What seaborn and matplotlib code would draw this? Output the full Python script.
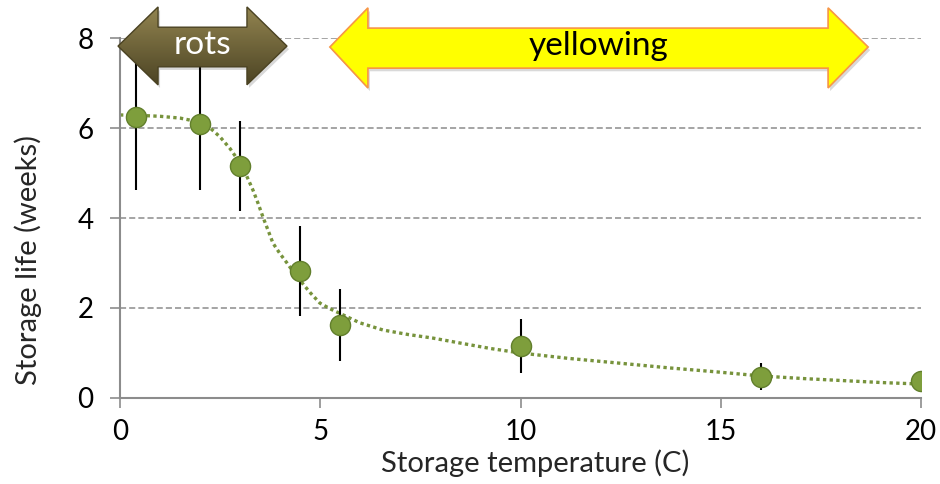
import numpy as np
import pandas as pd
import matplotlib
matplotlib.use("Agg")
import matplotlib.pyplot as plt
import seaborn as sns
from matplotlib.patches import Polygon

# ---- data ----
temperature = [0.4, 2.0, 3.0, 4.5, 5.5, 10.0, 16.0, 20.0]
storage_life = [6.24, 6.09, 5.16, 2.82, 1.62, 1.16, 0.47, 0.38]
error = [1.62, 1.47, 1.0, 1.0, 0.8, 0.6, 0.3, 0.05]

curve_x = [0.0, 0.5, 1.0, 1.5, 2.0, 2.25, 2.5, 2.75, 3.0, 3.16, 3.32, 3.45, 3.57, 3.7, 3.82,
           4.0, 4.17, 4.33, 4.49, 4.75, 4.99, 5.25, 5.49, 5.99, 6.57, 7.2, 7.82,
           8.5, 9.25, 10.0, 11.2, 12.4, 13.7, 14.9, 16.0, 17.1, 18.2, 19.1, 20.0]
curve_y = [6.29, 6.28, 6.26, 6.22, 6.13, 6.0, 5.8, 5.54, 5.22, 4.94, 4.62, 4.32, 4.02, 3.72, 3.44,
           3.2, 3.0, 2.8, 2.62, 2.34, 2.11, 1.98, 1.88, 1.67, 1.51, 1.41, 1.33,
           1.22, 1.1, 1.0, 0.88, 0.78, 0.67, 0.58, 0.49, 0.43, 0.38, 0.34, 0.31]

x_ticks = [0, 5, 10, 15, 20]
y_ticks = [0, 2, 4, 6, 8]
x_label = "Storage temperature (C)"
y_label = "Storage life (weeks)"
rots_label = "rots"
yellow_label = "yellowing"

points = pd.DataFrame({"temperature": temperature, "life": storage_life})
curve = pd.DataFrame({"temperature": curve_x, "life": curve_y})

sns.set_theme(style="white")
plt.rcParams["font.family"] = ["Lato", "DejaVu Sans"]

fig = plt.figure(figsize=(9.4, 4.84), dpi=100)
pos = [120 / 940, 1 - 398 / 484, (921 - 120) / 940, (398 - 38) / 484]
ax = fig.add_axes(pos)

green = "#77933C"
sns.lineplot(data=curve, x="temperature", y="life", ax=ax, color=green,
             linewidth=2.4, linestyle=(0, (1, 1)), zorder=2)
ax.errorbar(temperature, storage_life, yerr=error, fmt="none", ecolor="black",
            elinewidth=1.5, capsize=0, zorder=3)
sns.scatterplot(data=points, x="temperature", y="life", ax=ax, s=210,
                color="#7E9E3C", edgecolor="#627F2C", linewidth=1.0, zorder=4)

xlim = (0, 20)
ylim = (0, 8)
ax.set_xlim(*xlim)
ax.set_ylim(*ylim)
ax.set_xticks(x_ticks)
ax.set_yticks(y_ticks)
ax.set_xticklabels([str(t) for t in x_ticks])
ax.set_yticklabels([str(t) for t in y_ticks])
ax.tick_params(axis="both", labelsize=20, colors="#8c8c8c", labelcolor="black",
               length=7, width=1.2, direction="out", bottom=True, left=True)
ax.tick_params(axis="y", pad=12)
ax.tick_params(axis="x", pad=8)
ax.set_xlabel(x_label, fontsize=21)
ax.set_ylabel(y_label, fontsize=21)
ax.xaxis.set_label_coords(0.518, -0.142)
ax.yaxis.set_label_coords(-0.097, 0.383)

for yv in y_ticks[1:]:
    ax.axhline(yv, color="#8c8c8c", linestyle=(0, (4, 2)), linewidth=1.1, zorder=1)

for side in ["top", "right"]:
    ax.spines[side].set_visible(False)
for side in ["left", "bottom"]:
    ax.spines[side].set_color("#8c8c8c")
    ax.spines[side].set_linewidth(1.5)

# overlay axes covering the whole figure, with the same data mapping
ov = fig.add_axes([0, 0, 1, 1], zorder=10)
ov.patch.set_alpha(0)
ov.axis("off")
sx = (xlim[1] - xlim[0]) / pos[2]
sy = (ylim[1] - ylim[0]) / pos[3]
ov.set_xlim(xlim[0] - pos[0] * sx, xlim[0] + (1 - pos[0]) * sx)
ov.set_ylim(ylim[0] - pos[1] * sy, ylim[0] + (1 - pos[1]) * sy)


def double_arrow(x0, x1, hx0, hx1, ytop, ybot, stop, sbot, ymid):
    return [(x0, ymid), (hx0, ytop), (hx0, stop), (hx1, stop), (hx1, ytop),
            (x1, ymid), (hx1, ybot), (hx1, sbot), (hx0, sbot), (hx0, ybot)]


# rots arrow (gradient olive)
rots_pts = double_arrow(-0.05, 4.17, 0.95, 3.17, 8.69, 6.96, 8.24, 7.36, 7.82)
ov.add_patch(Polygon([(x + 0.05, y - 0.07) for x, y in rots_pts], closed=True,
                     facecolor="#000000", alpha=0.15, edgecolor="none", zorder=1))
grad = np.linspace(0, 1, 100).reshape(-1, 1)
cmap = matplotlib.colors.LinearSegmentedColormap.from_list("olive", ["#928450", "#4C4424"])
im = ov.imshow(grad, extent=(-0.05, 4.17, 6.96, 8.69), origin="upper", cmap=cmap,
               aspect="auto", zorder=2)
clip_poly = Polygon(rots_pts, closed=True, transform=ov.transData)
im.set_clip_path(clip_poly)
ov.add_patch(Polygon(rots_pts, closed=True, facecolor="none", edgecolor="#4a4222",
                     linewidth=1.0, zorder=3))
ov.text(2.06, 7.84, rots_label, color="white", fontsize=24, ha="center",
        va="center", zorder=4)

# yellowing arrow
yel_pts = double_arrow(5.24, 18.68, 6.19, 17.68, 8.67, 6.89, 8.22, 7.33, 7.8)
ov.add_patch(Polygon([(x + 0.05, y - 0.07) for x, y in yel_pts], closed=True,
                     facecolor="#000000", alpha=0.15, edgecolor="none", zorder=1))
ov.add_patch(Polygon(yel_pts, closed=True, facecolor="#FFFF00", edgecolor="#F79646",
                     linewidth=1.2, zorder=2))
ov.text(11.96, 7.82, yellow_label, color="black", fontsize=24, ha="center",
        va="center", zorder=4)

ov.set_xlim(xlim[0] - pos[0] * sx, xlim[0] + (1 - pos[0]) * sx)
ov.set_ylim(ylim[0] - pos[1] * sy, ylim[0] + (1 - pos[1]) * sy)

fig.savefig("out.png", dpi=100)
